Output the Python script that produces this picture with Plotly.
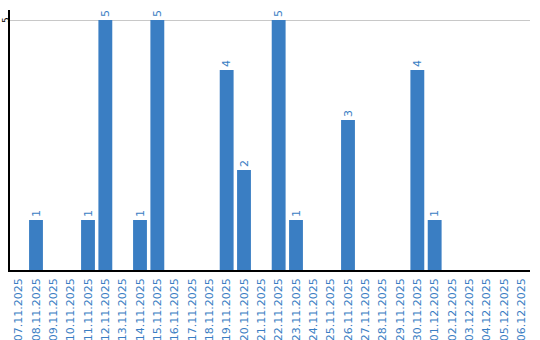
import plotly.graph_objects as go

dates = ["07.11.2025","08.11.2025","09.11.2025","10.11.2025","11.11.2025","12.11.2025",
         "13.11.2025","14.11.2025","15.11.2025","16.11.2025","17.11.2025","18.11.2025",
         "19.11.2025","20.11.2025","21.11.2025","22.11.2025","23.11.2025","24.11.2025",
         "25.11.2025","26.11.2025","27.11.2025","28.11.2025","29.11.2025","30.11.2025",
         "01.12.2025","02.12.2025","03.12.2025","04.12.2025","05.12.2025","06.12.2025"]
values = [0,1,0,0,1,5,0,1,5,0,0,0,4,2,0,5,1,0,0,3,0,0,0,4,1,0,0,0,0,0]
labels = [str(v) if v else "" for v in values]
y_ticks = [5]

blue = "#3a7ec3"
fig = go.Figure(go.Bar(
    x=dates, y=values, marker_color=blue, marker_line_width=0,
    text=labels, textposition="outside", textangle=-90,
    textfont=dict(color=blue, size=11, family="DejaVu Sans"),
    cliponaxis=False,
))
fig.update_layout(
    width=540, height=340,
    margin=dict(l=10, r=10, t=10, b=70, autoexpand=False),
    plot_bgcolor="white", paper_bgcolor="white",
    bargap=0.2, showlegend=False,
    font=dict(family="DejaVu Sans", size=11),
)
for t in y_ticks:
    fig.add_annotation(
        xref="paper", yref="y", x=0, y=t, text=str(t), showarrow=False,
        textangle=-90, xanchor="left", yanchor="middle", xshift=-10,
        borderpad=0, font=dict(color="black", size=9, family="DejaVu Sans"),
    )
fig.update_xaxes(
    tickangle=-90, tickfont=dict(color=blue, size=11, family="DejaVu Sans"),
    showline=True, linecolor="black", linewidth=1.5, ticks="", showgrid=False,
    automargin=False, ticklabelstandoff=2,
)
fig.update_yaxes(
    range=[0, 5.2], tickvals=y_ticks, showticklabels=False,
    showline=True, linecolor="black", linewidth=1.5, showgrid=True,
    gridcolor="#c8c8c8", zeroline=False, ticks="", automargin=False,
)
fig.write_html("out.html")
